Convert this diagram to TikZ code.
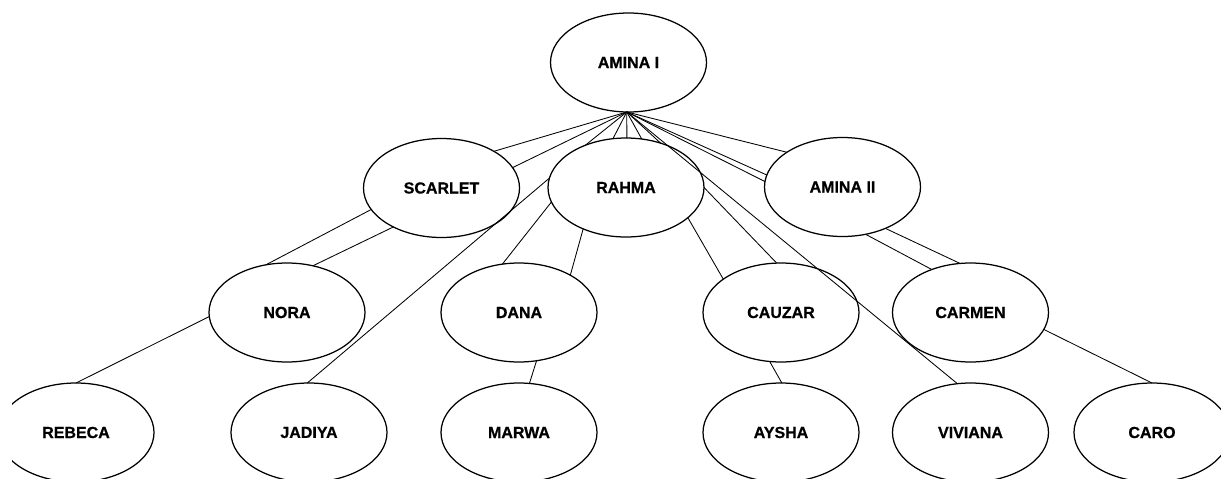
\documentclass[tikz,border=0pt]{standalone}
\usepackage{fontspec}
\setmainfont{Liberation Sans}[FakeBold=0.7]
\usetikzlibrary{shapes.geometric}
\begin{document}
\begin{tikzpicture}[x=1pt,y=-1pt,
  person/.style={ellipse,draw,line width=1.25pt,minimum width=156pt,
    minimum height=99pt,inner sep=0pt,outer sep=0pt,fill=white,
    font=\fontsize{16}{19}\selectfont\bfseries},
  link/.style={line width=0.85pt}]
\path[use as bounding box] (0,0) rectangle (1221,479);
\clip (12,0) rectangle (1221,479);

% generation 1
\node[person] (a1) at (628.5,62.5) {AMINA I};
% generation 2
\node[person] (scarlet) at (441.5,188) {SCARLET};
\node[person] (rahma)   at (626,187.5) {RAHMA};
\node[person] (amina2)  at (842.5,187) {AMINA II};
% generation 3
\node[person] (nora)   at (287,312.5)   {NORA};
\node[person] (dana)   at (519,312.5)   {DANA};
\node[person] (cauzar) at (781,312.5)   {CAUZAR};
\node[person] (carmen) at (970.5,312.5) {CARMEN};
% generation 4
\node[person] (rebeca)  at (76,432.5)    {REBECA};
\node[person] (jadiya)  at (309,432.5)   {JADIYA};
\node[person] (marwa)   at (519,432.5)   {MARWA};
\node[person] (aysha)   at (781,432.5)   {AYSHA};
\node[person] (viviana) at (970.5,432.5) {VIVIANA};
\node[person] (caro)    at (1152,432.5)  {CARO};

% all lines leaving AMINA I start from one point
\coordinate (hub) at (a1.268);
\draw[link] (hub) -- (scarlet.35);
\draw[link] (hub) -- (scarlet.16);
\draw[link] (hub) -- (rahma.134);
\draw[link] (hub) -- (rahma.105);
\draw[link] (hub) -- (rahma.89);
\draw[link] (hub) -- (rahma.72);
\draw[link] (hub) -- (rahma.52);
\draw[link] (hub) -- (amina2.148);
\draw[link] (hub) -- (amina2.171);
\draw[link] (hub) -- (amina2.176);
\draw[link] (hub) -- (viviana.105);

% lines below RAHMA
\draw[link] (rahma.173) -- (jadiya.92);
\draw[link] (rahma.191.7) -- (dana.109.4);
\draw[link] (rahma.224.4) -- (dana.36.9);
\draw[link] (rahma.0.6) -- (cauzar.95);
\draw[link] (rahma.-26.9) -- (cauzar.150);

% lines below SCARLET and NORA
\draw[link] (scarlet.197.3) -- (nora.114.8);
\draw[link] (scarlet.219.6) -- (nora.61.7);
\draw[link] (nora.183) -- (rebeca.90);

% remaining parent-child lines
\draw[link] (dana.-70.7) -- (marwa.78.6);
\draw[link] (cauzar.257.4) -- (aysha.89);
\draw[link] (amina2.-64) -- (carmen.132.4);
\draw[link] (amina2.-44.9) -- (carmen.102.2);
\draw[link] (carmen.-13.2) -- (caro.90);
\end{tikzpicture}
\end{document}
